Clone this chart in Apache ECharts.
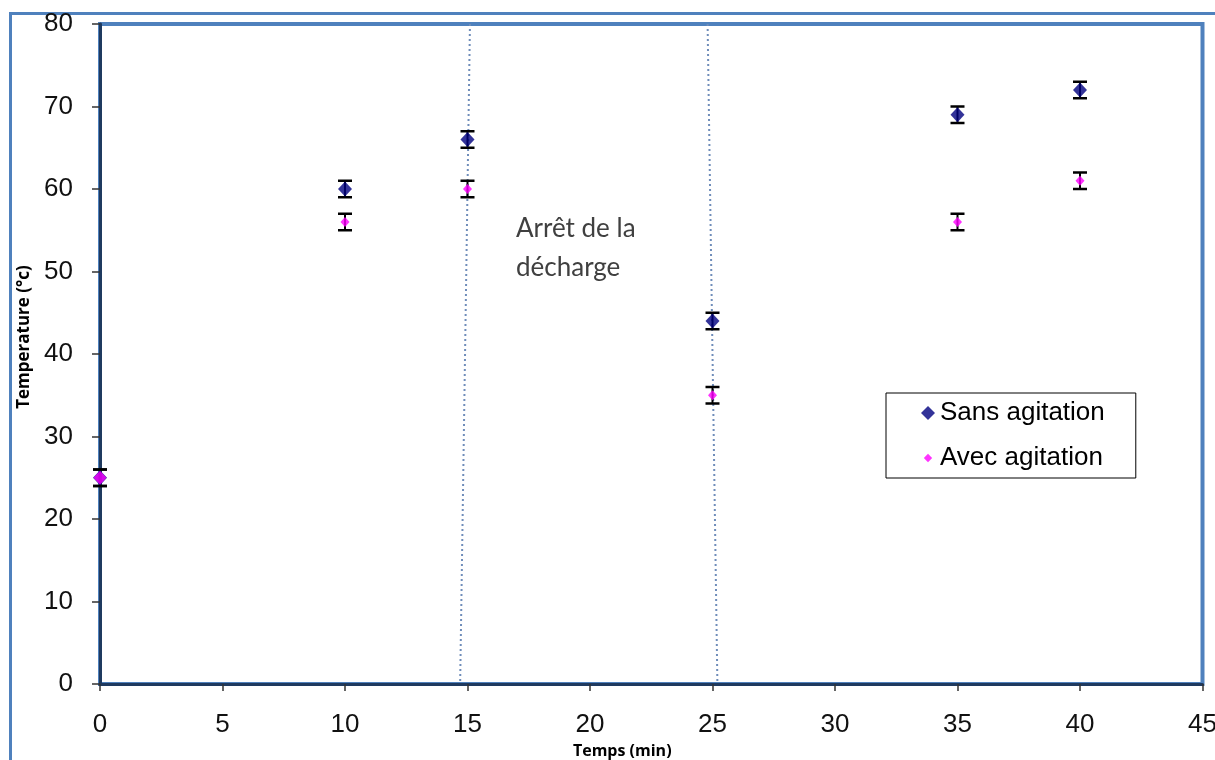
<!DOCTYPE html>
<html><head><meta charset="utf-8">
<script src="https://cdn.jsdelivr.net/npm/echarts@6/dist/echarts.min.js"></script>
<style>html,body{margin:0;padding:0;background:#fff}#c{width:1215px;height:760px}</style>
</head><body><div id="c"></div>
<script>
// ---- data ----
const times = [0, 10, 15, 25, 35, 40];
const sansAgitation = [25, 60, 66, 44, 69, 72];
const avecAgitation = [25, 56, 60, 35, 56, 61];
const errSans = [1, 1, 1, 1, 1, 1];
const errAvec = [1, 1, 1, 1, 1, 1];
const seriesNames = ['Sans agitation', 'Avec agitation'];
const dischargeLineA = [[15.1, 80], [14.7, 0]];
const dischargeLineB = [[24.8, 80], [25.2, 0]];
const annotation = 'Arrêt de la\ndécharge';
const xName = 'Temps (min)';
const yName = 'Temperature (°c)';

const pts = (ys) => times.map((t, i) => [t, ys[i]]);
const errs = (ys, es) => times.map((t, i) => [t, ys[i] - es[i], ys[i] + es[i]]);

function errorBar(params, api) {
  const x = api.value(0), lo = api.value(1), hi = api.value(2);
  const a = api.coord([x, lo]), b = api.coord([x, hi]);
  const hw = 7;
  const st = { stroke: '#000', lineWidth: 2.5 };
  return { type: 'group', children: [
    { type: 'line', shape: { x1: a[0], y1: a[1], x2: b[0], y2: b[1] }, style: { stroke: '#000', lineWidth: 2 } },
    { type: 'line', shape: { x1: a[0] - hw, y1: a[1], x2: a[0] + hw, y2: a[1] }, style: st },
    { type: 'line', shape: { x1: b[0] - hw, y1: b[1], x2: b[0] + hw, y2: b[1] }, style: st }
  ]};
}

const chart = echarts.init(document.getElementById('c'));
const tickFont = { fontFamily: 'Liberation Sans', fontSize: 26, color: '#111' };
chart.setOption({
  animation: false,
  backgroundColor: '#fff',
  grid: { left: 100, top: 24, width: 1102.5, height: 660, show: true, containLabel: false,
          outerBoundsMode: 'none',
          borderColor: '#4F81BD', borderWidth: 4, backgroundColor: 'transparent' },
  xAxis: {
    type: 'value', min: 0, max: 45, interval: 5,
    name: xName, nameLocation: 'middle', nameGap: 59,
    nameTextStyle: { fontFamily: 'Open Sans', fontWeight: 'bold', fontSize: 16, color: '#000', padding: [0, 58, 0, 0] },
    axisLine: { show: true, onZero: false, lineStyle: { color: '#1F3A5F', width: 3 } },
    axisTick: { show: true, length: 7, lineStyle: { color: '#333', width: 1.5 } },
    axisLabel: Object.assign({ margin: 28 }, tickFont),
    splitLine: { show: false }
  },
  yAxis: {
    type: 'value', min: 0, max: 80, interval: 10,
    name: yName, nameLocation: 'middle', nameGap: 67,
    nameTextStyle: { fontFamily: 'Open Sans', fontWeight: 'bold', fontSize: 17, color: '#000', padding: [0, 0, 0, 34] },
    axisLine: { show: true, onZero: false, lineStyle: { color: '#1F3A5F', width: 3 } },
    axisTick: { show: true, length: 8, lineStyle: { color: '#333', width: 1.5 } },
    axisLabel: Object.assign({ margin: 27 }, tickFont),
    splitLine: { show: false }
  },
  legend: {
    data: [
      { name: seriesNames[0], icon: 'diamond' },
      { name: seriesNames[1], icon: 'path://M0,0 M20,20 M10,4 L16,10 L10,16 L4,10 Z' }
    ],
    orient: 'vertical', left: 886, top: 393,
    backgroundColor: '#fff', borderColor: '#000', borderWidth: 1, borderRadius: 0,
    padding: [7, 31, 7, 35], itemGap: 19, itemWidth: 14, itemHeight: 14,
    textStyle: { fontFamily: 'Liberation Sans', fontSize: 26, color: '#000' }
  },
  graphic: [
    { type: 'rect', shape: { x: 10.5, y: 13.5, width: 1400, height: 900 },
      style: { fill: 'none', stroke: '#4F81BD', lineWidth: 3 }, silent: true },
    { type: 'text', left: 516, top: 209,
      style: { text: annotation, font: '26px Lato', lineHeight: 39, fill: '#404040' } }
  ],
  series: [
    { type: 'line', data: dischargeLineA, symbol: 'none', silent: true,
      lineStyle: { color: '#6F8DBA', width: 2, type: [2, 3] }, z: 1 },
    { type: 'line', data: dischargeLineB, symbol: 'none', silent: true,
      lineStyle: { color: '#6F8DBA', width: 2, type: [2, 3] }, z: 1 },
    { type: 'custom', data: errs(sansAgitation, errSans), renderItem: errorBar, z: 3, silent: true },
    { type: 'custom', data: errs(avecAgitation, errAvec), renderItem: errorBar, z: 3, silent: true },
    { name: seriesNames[0], type: 'scatter', data: pts(sansAgitation), symbol: 'diamond',
      symbolSize: [14, 15], itemStyle: { color: '#000080' }, clip: false, z: 4 },
    { name: seriesNames[1], type: 'scatter', data: pts(avecAgitation), symbol: 'diamond',
      symbolSize: (v, p) => p.dataIndex === 0 ? [13, 14] : [9, 10],
      itemStyle: { color: '#FF00FF' }, clip: false, z: 5 }
  ]
});
</script></body></html>
